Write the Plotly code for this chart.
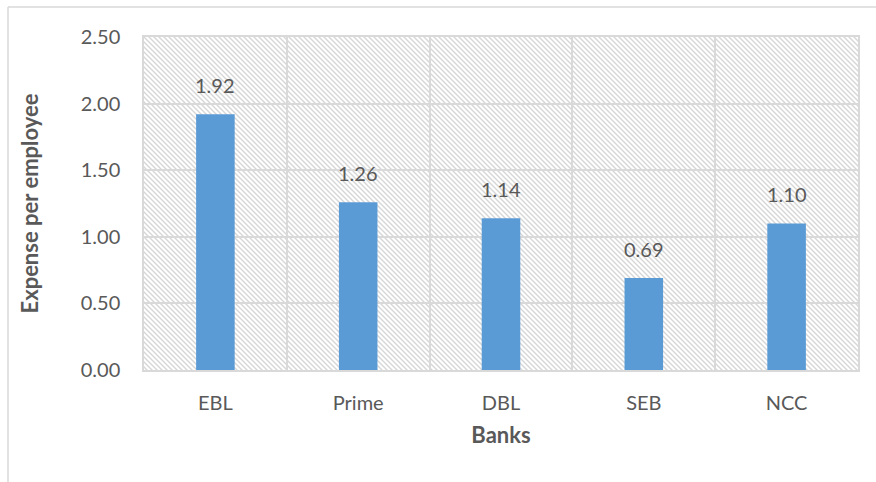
import base64
import plotly.graph_objects as go

banks = ["EBL", "Prime", "DBL", "SEB", "NCC"]
expense = [1.92, 1.26, 1.14, 0.69, 1.10]
y_ticks = [0.0, 0.5, 1.0, 1.5, 2.0, 2.5]

TXT = "#595959"
GRID = "#d9d9d9"
FONT = "Lato, 'Open Sans', sans-serif"

# hatched plot-area background (decorative)
W, H = 714, 333
svg = (
    f'<svg xmlns="http://www.w3.org/2000/svg" width="{W}" height="{H}" viewBox="0 0 {W} {H}">'
    '<defs><pattern id="p" patternUnits="userSpaceOnUse" width="5" height="5">'
    '<path d="M-1,-1 L6,6 M-1,4 L1,6 M4,-1 L6,1" stroke="#d6d6d6" stroke-width="1.4"/>'
    '</pattern></defs>'
    f'<rect width="{W}" height="{H}" fill="white"/>'
    f'<rect width="{W}" height="{H}" fill="url(#p)"/></svg>'
)
src = "data:image/svg+xml;base64," + base64.b64encode(svg.encode()).decode()

fig = go.Figure()
fig.add_trace(go.Bar(
    x=banks, y=expense, width=0.27,
    marker=dict(color="#5b9bd5", line=dict(width=0)),
    hoverinfo="x+y",
))

for b, v in zip(banks, expense):
    fig.add_annotation(x=b, y=v, text=f"{v:.2f}", showarrow=False,
                       yanchor="bottom", yshift=15,
                       font=dict(family=FONT, size=20, color=TXT))

fig.add_layout_image(dict(
    source=src, xref="x domain", yref="y domain", x=0, y=1,
    sizex=1, sizey=1, xanchor="left", yanchor="top",
    sizing="stretch", layer="below",
))

# outer chart frame (left and top edges visible)
fig.add_shape(type="line", xref="paper", yref="paper",
              x0=-136 / 714, x1=2, y0=(482 - 112 - 7) / 333, y1=(482 - 112 - 7) / 333,
              line=dict(color=GRID, width=1.5))
fig.add_shape(type="line", xref="paper", yref="paper",
              x0=-136 / 714, x1=-136 / 714, y0=-2, y1=(482 - 112 - 7) / 333,
              line=dict(color=GRID, width=1.5))

fig.update_layout(
    width=876, height=482,
    margin=dict(l=144, r=18, t=37, b=112),
    paper_bgcolor="white", plot_bgcolor="rgba(0,0,0,0)",
    showlegend=False,
    font=dict(family=FONT, size=20, color=TXT),
    xaxis=dict(
        tickson="boundaries", showgrid=True, gridcolor=GRID, gridwidth=1.5,
        showline=True, mirror=True, linecolor=GRID, linewidth=1.5,
        ticks="", ticklabelstandoff=14,
        tickfont=dict(family=FONT, size=20, color=TXT),
        title=dict(text="<b>Banks</b>", standoff=15,
                   font=dict(family=FONT, size=22, color=TXT)),
    ),
    yaxis=dict(
        range=[0, 2.5], tickvals=y_ticks, tickformat=".2f",
        showgrid=True, gridcolor=GRID, gridwidth=1.5,
        showline=True, mirror=True, linecolor=GRID, linewidth=1.5,
        zeroline=False, ticks="", ticklabelstandoff=18,
        tickfont=dict(family=FONT, size=20, color=TXT),
        title=dict(text="<b>Expense per employee</b>", standoff=36,
                   font=dict(family=FONT, size=22, color=TXT)),
    ),
)

fig.write_html("out.html")
